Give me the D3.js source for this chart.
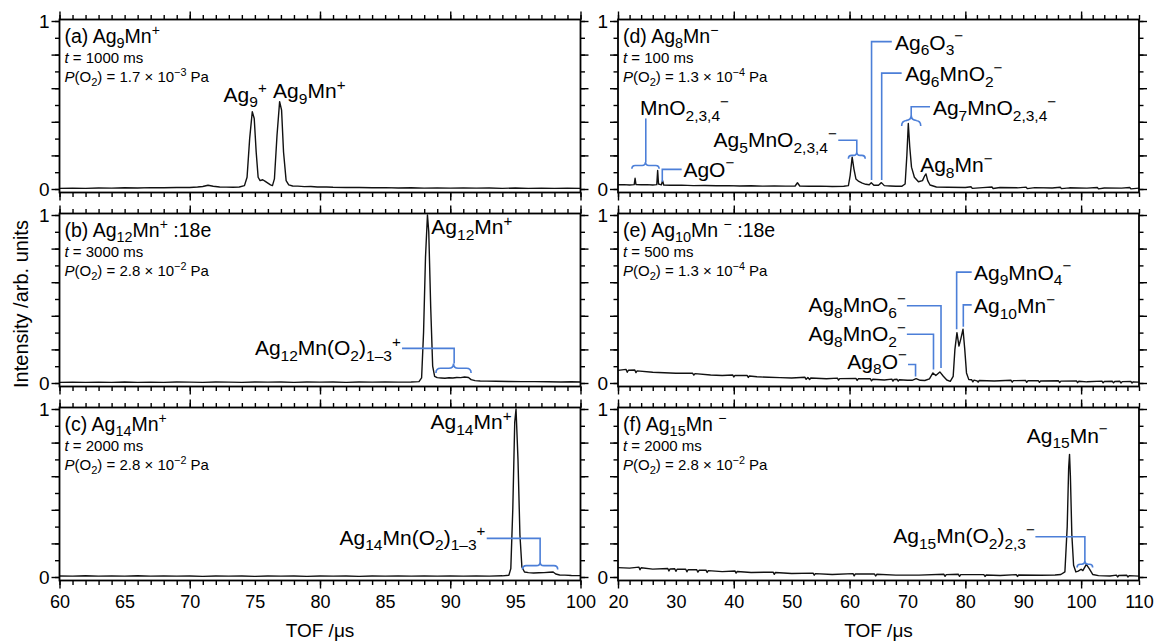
<!DOCTYPE html>
<html>
<head>
<meta charset="utf-8">
<script src="https://cdn.jsdelivr.net/npm/d3@7"></script>
<style>
  body { margin: 0; background: #fff; }
  svg { font-family: "Liberation Sans", Arial, sans-serif; }
  text { white-space: pre; }
</style>
</head>
<body>
<svg id="chart" width="1156" height="641"></svg>
<script>
// ---- data: TOF (µs) vs normalised intensity ----
const traceA = [[60,0.004],[61,0.005],[62,0.004],[63,0.006],[64,0.005],[65,0.007],[66,0.006],[67,0.008],[68,0.007],
  [69,0.009],[70,0.009],[70.6,0.012],[71,0.015],[71.4,0.022],[71.8,0.016],[72.3,0.012],[72.8,0.011],[73.3,0.01],
  [73.8,0.012],[74.2,0.02],[74.4,0.07],[74.6,0.3],[74.8,0.46],[74.95,0.42],[75.1,0.22],[75.25,0.07],[75.4,0.05],
  [75.6,0.055],[75.8,0.045],[76.0,0.035],[76.2,0.025],[76.35,0.02],[76.5,0.06],[76.7,0.32],[76.9,0.52],[77.05,0.47],
  [77.2,0.22],[77.4,0.05],[77.6,0.025],[77.9,0.018],[78.3,0.017],[78.8,0.014],[79.3,0.015],[79.8,0.012],[80.5,0.012],
  [81,0.01],[82,0.009],[83,0.009],[84,0.007],[85,0.008],[86,0.006],[87,0.007],[88,0.005],[89,0.006],[90,0.005],
  [91,0.006],[92,0.005],[93,0.006],[94,0.004],[95,0.006],[96,0.004],[97,0.005],[98,0.004],[99,0.005],[100,0.004]];

const traceB = [[60,0.004],[61,0.005],[62,0.004],[63,0.005],[64,0.004],[65,0.006],[66,0.004],[67,0.005],[68,0.004],
  [69,0.006],[70,0.005],[71,0.004],[72,0.006],[73,0.005],[74,0.004],[75,0.006],[76,0.005],[77,0.006],[78,0.004],
  [79,0.006],[80,0.005],[81,0.006],[82,0.004],[83,0.006],[84,0.005],[85,0.006],[86,0.005],[87,0.006],[87.6,0.008],
  [87.8,0.03],[87.95,0.3],[88.1,0.75],[88.25,1.0],[88.35,0.9],[88.5,0.45],[88.65,0.1],[88.8,0.04],[89.0,0.032],
  [89.3,0.03],[89.6,0.028],[89.9,0.031],[90.2,0.03],[90.5,0.033],[90.8,0.032],[91.1,0.036],[91.4,0.033],[91.6,0.02],
  [91.9,0.014],[92.3,0.012],[92.8,0.011],[93.5,0.01],[94.5,0.009],[95.5,0.008],[96.5,0.008],[97.5,0.007],
  [98.5,0.006],[99.3,0.007],[100,0.006]];

const traceC = [[60,0.006],[61,0.005],[62,0.007],[63,0.005],[64,0.006],[65,0.005],[66,0.007],[67,0.005],[68,0.006],
  [69,0.005],[70,0.006],[71,0.004],[72,0.006],[73,0.005],[74,0.006],[75,0.004],[76,0.006],[77,0.005],[78,0.006],
  [79,0.004],[80,0.006],[81,0.005],[82,0.006],[83,0.004],[84,0.006],[85,0.005],[86,0.006],[87,0.005],[88,0.006],
  [89,0.005],[90,0.006],[91,0.005],[92,0.006],[93,0.005],[94,0.007],[94.5,0.01],[94.65,0.05],[94.8,0.4],
  [94.95,0.92],[95.05,1.0],[95.2,0.7],[95.35,0.25],[95.5,0.06],[95.7,0.03],[96.0,0.026],[96.4,0.024],[96.8,0.025],
  [97.2,0.026],[97.6,0.028],[97.9,0.03],[98.1,0.018],[98.4,0.012],[98.8,0.011],[99.3,0.009],[100,0.008]];

const traceD = [[20,0.025],[21,0.026],[22,0.024],[22.8,0.026],[22.95,0.064],[23.1,0.027],[24,0.025],[25,0.026],
  [26,0.024],[26.7,0.026],[26.85,0.11],[27.0,0.03],[27.5,0.025],[27.7,0.05],[27.9,0.024],[29,0.022],[31,0.023],
  [33,0.02],[35,0.021],[37,0.019],[39,0.02],[41,0.018],[43,0.019],[45,0.017],[47,0.018],[49,0.017],[50.6,0.018],
  [51,0.037],[51.4,0.018],[53,0.016],[55,0.017],[57,0.015],[59,0.016],[59.8,0.02],[60.1,0.08],[60.45,0.19],
  [60.75,0.12],[61.1,0.06],[61.6,0.045],[62.2,0.035],[62.8,0.028],[63.4,0.025],[63.75,0.037],[64.2,0.022],
  [65,0.022],[65.5,0.038],[66,0.02],[67,0.018],[68,0.016],[69,0.016],[69.6,0.03],[69.9,0.2],[70.15,0.39],
  [70.4,0.25],[70.7,0.13],[71.2,0.07],[71.9,0.043],[72.6,0.05],[73.0,0.08],[73.2,0.09],[73.5,0.05],[73.9,0.024],
  [75,0.012],[77,0.01],[80,0.009],[81,0.013],[81.2,0.004],[83,0.008],[84.6,0.012],[84.8,0.003],[86,0.009],
  [89,0.007],[90.5,0.011],[90.7,0.002],[92,0.008],[95,0.006],[96.4,0.01],[96.6,0.002],[98,0.007],[101,0.005],
  [102.8,0.009],[103,0.001],[104,0.006],[107,0.005],[108.4,0.009],[108.6,0.001],[110,0.005]];

const traceE = [[20,0.075],[21.4,0.081],[21.6,0.064],[21.8,0.076],[22.9,0.077],[23.1,0.062],[23.3,0.072],[26,0.064],
  [28,0.061],[30,0.058],[32.9,0.058],[33.1,0.047],[33.3,0.056],[36,0.048],[38,0.045],[39.8,0.048],[40,0.036],
  [40.2,0.045],[42.3,0.045],[42.5,0.033],[42.7,0.042],[44,0.037],[46,0.034],[48,0.032],[50,0.03],[52.3,0.034],
  [52.5,0.022],[52.8,0.033],[53.1,0.021],[53.3,0.03],[56,0.025],[57.9,0.029],[58.1,0.017],[58.3,0.026],[61.1,0.027],
  [61.3,0.015],[61.5,0.025],[63.6,0.025],[63.8,0.013],[64,0.022],[66,0.018],[67.3,0.023],[67.5,0.011],[67.7,0.021],
  [68.2,0.022],[68.4,0.011],[68.6,0.019],[70,0.016],[70.8,0.016],[71.5,0.026],[72.2,0.016],[73,0.015],[73.8,0.025],
  [74.4,0.06],[74.9,0.045],[75.6,0.066],[76.2,0.04],[76.8,0.018],[77.4,0.01],[77.9,0.04],[78.2,0.2],[78.55,0.3],
  [78.9,0.22],[79.2,0.26],[79.6,0.32],[79.9,0.2],[80.2,0.06],[80.6,0.02],[81.1,0.019],[81.3,0.007],[81.5,0.017],
  [82,0.013],[82.2,0.005],[82.4,0.015],[85,0.012],[87.9,0.016],[88.1,0.005],[88.3,0.014],[90.4,0.015],[90.6,0.004],
  [90.8,0.013],[92.6,0.014],[92.8,0.004],[93,0.012],[96.1,0.013],[96.3,0.003],[96.5,0.011],[99.2,0.012],
  [99.4,0.002],[99.6,0.01],[101,0.007],[103.6,0.011],[103.8,0.001],[104,0.009],[105.4,0.01],[105.6,0.001],
  [105.8,0.009],[106.7,0.01],[106.9,0.0],[107.1,0.008],[108.6,0.009],[108.8,0.0],[109,0.007],[110,0.005]];

const traceF = [[20,0.056],[22,0.053],[23.6,0.059],[23.8,0.043],[24,0.055],[26,0.047],[28.6,0.051],[28.8,0.036],
  [29,0.048],[29.8,0.049],[30,0.034],[30.2,0.046],[31.7,0.046],[31.9,0.031],[32.1,0.043],[33.6,0.043],[33.8,0.029],
  [34,0.04],[35.2,0.041],[35.4,0.027],[35.6,0.038],[38,0.032],[40.2,0.036],[40.4,0.023],[40.6,0.033],[43,0.027],
  [46.8,0.029],[47,0.016],[47.2,0.027],[50,0.021],[53.7,0.023],[53.9,0.011],[54.1,0.02],[57,0.015],[60.6,0.02],
  [60.8,0.007],[61,0.018],[64.3,0.018],[64.5,0.006],[64.7,0.016],[68,0.011],[72,0.011],[76.3,0.016],[76.5,0.004],
  [76.7,0.014],[78.8,0.016],[79,0.004],[79.2,0.014],[83.2,0.014],[83.4,0.003],[83.6,0.012],[86,0.009],[88.8,0.014],
  [89,0.003],[89.2,0.012],[93,0.01],[95.5,0.012],[96.5,0.015],[97.2,0.03],[97.6,0.3],[97.85,0.65],[98.0,0.73],
  [98.15,0.6],[98.4,0.25],[98.7,0.07],[99.1,0.03],[99.5,0.035],[100,0.046],[100.3,0.038],[100.9,0.075],
  [101.4,0.05],[102,0.015],[103,0.008],[105,0.006],[106.1,0.011],[106.3,0.0],[106.5,0.009],[107.9,0.01],
  [108.1,0.0],[108.3,0.008],[110,0.005]];

const panelTitles = ["(a) Ag_{9}Mn^{+}", "(b) Ag_{12}Mn^{+} :18e", "(c) Ag_{14}Mn^{+}",
                     "(d) Ag_{8}Mn^{−}", "(e) Ag_{10}Mn ^{−} :18e", "(f) Ag_{15}Mn ^{−}"];
const reactTimes = ["1000", "3000", "2000", "100", "500", "2000"];
const pressures = ["1.7 × 10^{−3}", "2.8 × 10^{−2}", "2.8 × 10^{−2}",
                   "1.3 × 10^{−4}", "1.3 × 10^{−4}", "2.8 × 10^{−2}"];
const leftTicks = [60, 65, 70, 75, 80, 85, 90, 95, 100];
const rightTicks = [20, 30, 40, 50, 60, 70, 80, 90, 100, 110];

// ---- peak assignments (label text, anchor point in data units) ----
const notes = [
  [{t: "Ag_{9}^{+}", x: 72.6, y: 0.52}, {t: "Ag_{9}Mn^{+}", x: 76.4, y: 0.54}],
  [{t: "Ag_{12}Mn^{+}", x: 88.55, y: 0.885}, {t: "Ag_{12}Mn(O_{2})_{1–3}^{+}", x: 86.2, y: 0.166, end: true}],
  [{t: "Ag_{14}Mn^{+}", x: 94.7, y: 0.88, end: true}, {t: "Ag_{14}Mn(O_{2})_{1–3}^{+}", x: 92.7, y: 0.193, end: true}],
  [{t: "MnO_{2,3,4}^{−}", x: 23.8, y: 0.44}, {t: "AgO^{−}", x: 31.3, y: 0.073},
   {t: "Ag_{5}MnO_{2,3,4}^{−}", x: 57.8, y: 0.25, end: true}, {t: "Ag_{6}O_{3}^{−}", x: 67.85, y: 0.83},
   {t: "Ag_{6}MnO_{2}^{−}", x: 69.6, y: 0.64}, {t: "Ag_{7}MnO_{2,3,4}^{−}", x: 74.4, y: 0.44},
   {t: "Ag_{8}Mn^{−}", x: 72.2, y: 0.1}],
  [{t: "Ag_{9}MnO_{4}^{−}", x: 81.5, y: 0.615}, {t: "Ag_{10}Mn^{−}", x: 81.5, y: 0.415},
   {t: "Ag_{8}MnO_{6}^{−}", x: 69.7, y: 0.42, end: true}, {t: "Ag_{8}MnO_{2}^{−}", x: 69.7, y: 0.25, end: true},
   {t: "Ag_{8}O^{−}", x: 69.9, y: 0.085, end: true}],
  [{t: "Ag_{15}Mn^{−}", x: 90.6, y: 0.8}, {t: "Ag_{15}Mn(O_{2})_{2,3}^{−}", x: 92.0, y: 0.2, end: true}]
];
const leaders = [
  [],
  [[[86.3, 0.206], [90.3, 0.206], [90.3, 0.116]]],
  [[[92.8, 0.23], [96.9, 0.23], [96.9, 0.09]]],
  [[[24.8, 0.42], [24.8, 0.16]], [[31.0, 0.117], [27.65, 0.117], [27.65, 0.043]],
   [[58.05, 0.29], [61.25, 0.29], [61.25, 0.22]], [[67.3, 0.877], [63.8, 0.877], [63.8, 0.054]],
   [[69.0, 0.69], [65.55, 0.69], [65.55, 0.054]], [[73.9, 0.49], [70.65, 0.49], [70.65, 0.44]]],
  [[[81.1, 0.66], [78.5, 0.66], [78.5, 0.32]], [[81.1, 0.465], [79.65, 0.465], [79.65, 0.335]],
   [[69.9, 0.46], [75.8, 0.46], [75.8, 0.09]], [[69.9, 0.29], [74.5, 0.29], [74.5, 0.08]],
   [[70.1, 0.11], [71.4, 0.11], [71.4, 0.038]]],
  [[[92.1, 0.24], [100.65, 0.24], [100.65, 0.095]]]
];
// braces: [from, to, tip level, top level]
const braces = [
  [],
  [[88.9, 91.6, 0.06, 0.116]],
  [[95.55, 98.25, 0.045, 0.09]],
  [[22.4, 27.1, 0.12, 0.16], [59.8, 62.7, 0.18, 0.22], [69.0, 72.3, 0.375, 0.44]],
  [],
  [[99.3, 102.0, 0.056, 0.095]]
];
const traces = [traceA, traceB, traceC, traceD, traceE, traceF];

// ---- layout ----
const blue = "#4c7fd8";
const cols = [
  {x0: 59.5, x1: 580.5, dom: [60, 100], minor: 1, major: 10, labels: leftTicks},
  {x0: 618, x1: 1139, dom: [20, 110], minor: 2, major: 20, labels: rightTicks}
];
const rowTop = [21, 215, 409];   // pixel of intensity 1
const rowH = 168;

const svg = d3.select("#chart");

// text with _{sub} ^{sup} *italic* markup
function rich(sel, str, fs) {
  const re = /(_\{[^}]*\}|\^\{[^}]*\}|\*[^*]*\*|[^_^*]+)/g;
  let shift = 0;
  str.match(re).forEach(tok => {
    let txt = tok, target = 0, size = fs, ital = false;
    if (tok[0] === "_") { txt = tok.slice(2, -1); target = 0.27 * fs; size = 0.74 * fs; }
    else if (tok[0] === "^") { txt = tok.slice(2, -1); target = -0.4 * fs; size = 0.72 * fs; }
    else if (tok[0] === "*") { txt = tok.slice(1, -1); ital = true; }
    const ts = sel.append("tspan").text(txt).attr("font-size", size).attr("dy", target - shift);
    if (ital) ts.attr("font-style", "italic");
    shift = target;
  });
}

function brace(x, y, b) {
  const xa = x(b[0]), xb = x(b[1]), xc = (xa + xb) / 2;
  const yb = y(b[2]), yt = y(b[3]), h = yb - yt, ym = yt + h / 2, r = h / 2;
  return `M${xa},${yb} Q${xa},${ym} ${xa + r},${ym} L${xc - r},${ym} Q${xc},${ym} ${xc},${yt}` +
         ` Q${xc},${ym} ${xc + r},${ym} L${xb - r},${ym} Q${xb},${ym} ${xb},${yb}`;
}

for (let i = 0; i < 6; i++) {
  const c = cols[Math.floor(i / 3)], row = i % 3;
  const yTop = rowTop[row], yBot = yTop + rowH;
  const x = d3.scaleLinear().domain(c.dom).range([c.x0, c.x1]);
  const y = d3.scaleLinear().domain([0, 1]).range([yBot, yTop]);
  const fTop = yTop - 1.5, fBot = yBot + 3.5;
  const g = svg.append("g");

  const minorX = d3.range(c.dom[0], c.dom[1] + 1e-6, c.minor);
  const majorX = d3.range(c.dom[0], c.dom[1] + 1e-6, c.major);
  const minorY = d3.range(0, 1.0001, 0.1), majorY = d3.range(0, 1.0001, 0.2);

  const tickSets = [
    [d3.axisTop, fTop, minorX, 4.5, true], [d3.axisTop, fTop, majorX, 8, true],
    [d3.axisBottom, fBot, minorX, 4.5, true], [d3.axisBottom, fBot, majorX, 8, true],
    [d3.axisLeft, c.x0, minorY, 4.5, false], [d3.axisLeft, c.x0, majorY, 8, false],
    [d3.axisRight, c.x1, minorY, 4.5, false], [d3.axisRight, c.x1, majorY, 8, false]
  ];
  tickSets.forEach(([ax, pos, vals, len, horiz]) => {
    const a = ax(horiz ? x : y).tickValues(vals).tickSize(len).tickFormat("");
    const ag = g.append("g")
      .attr("transform", horiz ? `translate(0,${pos})` : `translate(${pos},0)`)
      .call(a);
    ag.select(".domain").remove();
    ag.selectAll("line").attr("stroke", "#000").attr("stroke-width", 1.4);
  });

  // y labels 0 and 1
  const yl = g.append("g").attr("transform", `translate(${c.x0},0)`)
    .call(d3.axisLeft(y).tickValues([0, 1]).tickSize(0).tickPadding(10).tickFormat(d3.format("d")));
  yl.select(".domain").remove();
  yl.selectAll("text").attr("font-size", 19).attr("font-family", null).attr("fill", "#000");

  if (row === 2) {
    const xl = g.append("g").attr("transform", `translate(0,${fBot})`)
      .call(d3.axisBottom(x).tickValues(c.labels).tickSize(0).tickPadding(15));
    xl.select(".domain").remove();
    xl.selectAll("text").attr("font-size", 18).attr("font-family", null).attr("fill", "#000");
  }

  // spectrum
  g.append("path").datum(traces[i])
    .attr("d", d3.line().x(d => x(d[0])).y(d => y(d[1])))
    .attr("fill", "none").attr("stroke", "#111").attr("stroke-width", 1.4)
    .attr("stroke-linejoin", "round");

  // frame
  g.append("rect").attr("x", c.x0).attr("y", fTop)
    .attr("width", c.x1 - c.x0).attr("height", fBot - fTop)
    .attr("fill", "none").attr("stroke", "#000").attr("stroke-width", 1.8);

  // headings
  rich(g.append("text").attr("x", c.x0 + 5).attr("y", fTop + 23), panelTitles[i], 19.5);
  rich(g.append("text").attr("x", c.x0 + 5).attr("y", fTop + 43), "*t* = " + reactTimes[i] + " ms", 15);
  rich(g.append("text").attr("x", c.x0 + 5).attr("y", fTop + 62), "*P*(O_{2}) = " + pressures[i] + " Pa", 15);

  // leaders and braces
  leaders[i].forEach(pts => {
    g.append("path").attr("d", d3.line().x(d => x(d[0])).y(d => y(d[1]))(pts))
      .attr("fill", "none").attr("stroke", blue).attr("stroke-width", 1.6);
  });
  braces[i].forEach(b => {
    g.append("path").attr("d", brace(x, y, b))
      .attr("fill", "none").attr("stroke", blue).attr("stroke-width", 1.6);
  });
  notes[i].forEach(n => {
    const t = g.append("text").attr("x", x(n.x)).attr("y", y(n.y))
      .attr("text-anchor", n.end ? "end" : "start");
    rich(t, n.t, 21);
  });
}

// axis titles
cols.forEach(c => {
  svg.append("text").attr("x", (c.x0 + c.x1) / 2).attr("y", 637)
    .attr("text-anchor", "middle").attr("font-size", 19).text("TOF /μs");
});
svg.append("text").attr("transform", "translate(28,304) rotate(-90)")
  .attr("text-anchor", "middle").attr("font-size", 20).text("Intensity /arb. units");
</script>
</body>
</html>
